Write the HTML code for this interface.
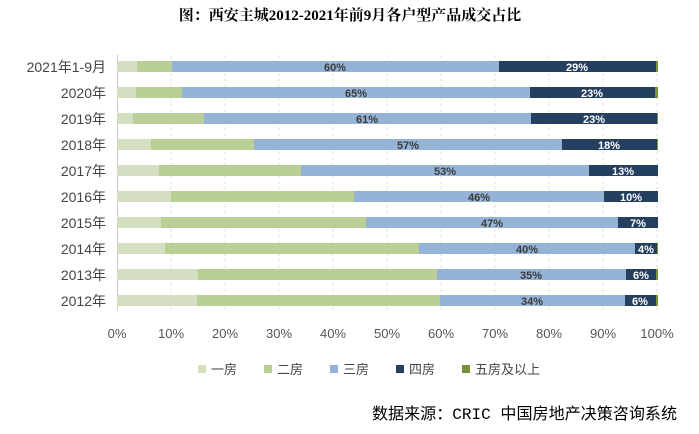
<!DOCTYPE html>
<html><head><meta charset="utf-8"><style>
body{margin:0;background:#fff;}
</style></head><body>
<svg width="699" height="429" xmlns="http://www.w3.org/2000/svg" font-family="Liberation Sans, Noto Sans CJK SC, sans-serif">
<text x="350" y="20" text-anchor="middle" font-size="15" font-weight="bold" font-family="Liberation Serif, Noto Serif CJK SC, serif" fill="#000">图：西安主城2012-2021年前9月各户型产品成交占比</text>
<g stroke="#e0e0e0" stroke-dasharray="3,3" stroke-width="1">
<line x1="171" y1="55" x2="171" y2="310"/><line x1="225" y1="55" x2="225" y2="310"/><line x1="279" y1="55" x2="279" y2="310"/><line x1="333" y1="55" x2="333" y2="310"/><line x1="387" y1="55" x2="387" y2="310"/><line x1="441" y1="55" x2="441" y2="310"/><line x1="495" y1="55" x2="495" y2="310"/><line x1="549" y1="55" x2="549" y2="310"/><line x1="603" y1="55" x2="603" y2="310"/><line x1="657" y1="55" x2="657" y2="310"/>
</g>
<line x1="117.5" y1="55" x2="117.5" y2="310" stroke="#c8c8c8"/>
<g>
<rect x="117" y="61" width="20" height="11" fill="#d3dfc0"/><rect x="137" y="61" width="35" height="11" fill="#b9cf96"/><rect x="172" y="61" width="327" height="11" fill="#95b3d7"/><rect x="499" y="61" width="157" height="11" fill="#243f60"/><rect x="656" y="61" width="2" height="11" fill="#77933c"/>
<rect x="117" y="87" width="19" height="11" fill="#d3dfc0"/><rect x="136" y="87" width="46" height="11" fill="#b9cf96"/><rect x="182" y="87" width="348" height="11" fill="#95b3d7"/><rect x="530" y="87" width="125" height="11" fill="#243f60"/><rect x="655" y="87" width="3" height="11" fill="#77933c"/>
<rect x="117" y="113" width="16" height="11" fill="#d3dfc0"/><rect x="133" y="113" width="71" height="11" fill="#b9cf96"/><rect x="204" y="113" width="327" height="11" fill="#95b3d7"/><rect x="531" y="113" width="126" height="11" fill="#243f60"/><rect x="657" y="113" width="1" height="11" fill="#77933c"/>
<rect x="117" y="139" width="34" height="11" fill="#d3dfc0"/><rect x="151" y="139" width="103" height="11" fill="#b9cf96"/><rect x="254" y="139" width="308" height="11" fill="#95b3d7"/><rect x="562" y="139" width="95" height="11" fill="#243f60"/><rect x="657" y="139" width="1" height="11" fill="#77933c"/>
<rect x="117" y="165" width="42" height="11" fill="#d3dfc0"/><rect x="159" y="165" width="142" height="11" fill="#b9cf96"/><rect x="301" y="165" width="288" height="11" fill="#95b3d7"/><rect x="589" y="165" width="69" height="11" fill="#243f60"/>
<rect x="117" y="191" width="54" height="11" fill="#d3dfc0"/><rect x="171" y="191" width="183" height="11" fill="#b9cf96"/><rect x="354" y="191" width="250" height="11" fill="#95b3d7"/><rect x="604" y="191" width="54" height="11" fill="#243f60"/>
<rect x="117" y="217" width="44" height="11" fill="#d3dfc0"/><rect x="161" y="217" width="205" height="11" fill="#b9cf96"/><rect x="366" y="217" width="252" height="11" fill="#95b3d7"/><rect x="618" y="217" width="40" height="11" fill="#243f60"/>
<rect x="117" y="243" width="48" height="11" fill="#d3dfc0"/><rect x="165" y="243" width="254" height="11" fill="#b9cf96"/><rect x="419" y="243" width="216" height="11" fill="#95b3d7"/><rect x="635" y="243" width="22" height="11" fill="#243f60"/><rect x="657" y="243" width="1" height="11" fill="#77933c"/>
<rect x="117" y="269" width="81" height="11" fill="#d3dfc0"/><rect x="198" y="269" width="239" height="11" fill="#b9cf96"/><rect x="437" y="269" width="189" height="11" fill="#95b3d7"/><rect x="626" y="269" width="30" height="11" fill="#243f60"/><rect x="656" y="269" width="2" height="11" fill="#77933c"/>
<rect x="117" y="295" width="80" height="11" fill="#d3dfc0"/><rect x="197" y="295" width="243" height="11" fill="#b9cf96"/><rect x="440" y="295" width="185" height="11" fill="#95b3d7"/><rect x="625" y="295" width="31" height="11" fill="#243f60"/><rect x="656" y="295" width="2" height="11" fill="#77933c"/>
</g>
<g font-size="11" font-weight="bold" fill="#3a3a3a" text-anchor="middle">
<text x="335" y="71">60%</text><text x="356" y="97">65%</text><text x="367" y="123">61%</text><text x="408" y="149">57%</text><text x="445" y="175">53%</text><text x="479" y="201">46%</text><text x="492" y="227">47%</text><text x="527" y="253">40%</text><text x="531" y="279">35%</text><text x="532" y="305">34%</text>
</g>
<g font-size="11" font-weight="bold" fill="#fff" text-anchor="middle">
<text x="577" y="71">29%</text><text x="592" y="97">23%</text><text x="594" y="123">23%</text><text x="609" y="149">18%</text><text x="623" y="175">13%</text><text x="631" y="201">10%</text><text x="638" y="227">7%</text><text x="646" y="253">4%</text><text x="641" y="279">6%</text><text x="640" y="305">6%</text>
</g>
<g font-size="14" fill="#444" text-anchor="end">
<text x="106" y="72">2021年1-9月</text><text x="106" y="98">2020年</text><text x="106" y="124">2019年</text><text x="106" y="150">2018年</text><text x="106" y="176">2017年</text><text x="106" y="202">2016年</text><text x="106" y="228">2015年</text><text x="106" y="254">2014年</text><text x="106" y="280">2013年</text><text x="106" y="306">2012年</text>
</g>
<g font-size="13" fill="#555" text-anchor="middle">
<text x="117" y="338">0%</text><text x="171" y="338">10%</text><text x="225" y="338">20%</text><text x="279" y="338">30%</text><text x="333" y="338">40%</text><text x="387" y="338">50%</text><text x="441" y="338">60%</text><text x="495" y="338">70%</text><text x="549" y="338">80%</text><text x="603" y="338">90%</text><text x="657" y="338">100%</text>
</g>
<g font-size="13" fill="#444">
<rect x="198" y="365" width="8" height="8" fill="#d3dfc0"/><text x="211" y="374">一房</text>
<rect x="264" y="365" width="8" height="8" fill="#b9cf96"/><text x="277" y="374">二房</text>
<rect x="330" y="365" width="8" height="8" fill="#95b3d7"/><text x="343" y="374">三房</text>
<rect x="396" y="365" width="8" height="8" fill="#243f60"/><text x="409" y="374">四房</text>
<rect x="462" y="365" width="8" height="8" fill="#77933c"/><text x="475" y="374">五房及以上</text>
</g>
<text x="372" y="419" font-size="16" fill="#000" textLength="305" lengthAdjust="spacingAndGlyphs" font-family="Liberation Mono, Noto Sans CJK SC, monospace">数据来源：CRIC 中国房地产决策咨询系统</text>
</svg>
</body></html>
